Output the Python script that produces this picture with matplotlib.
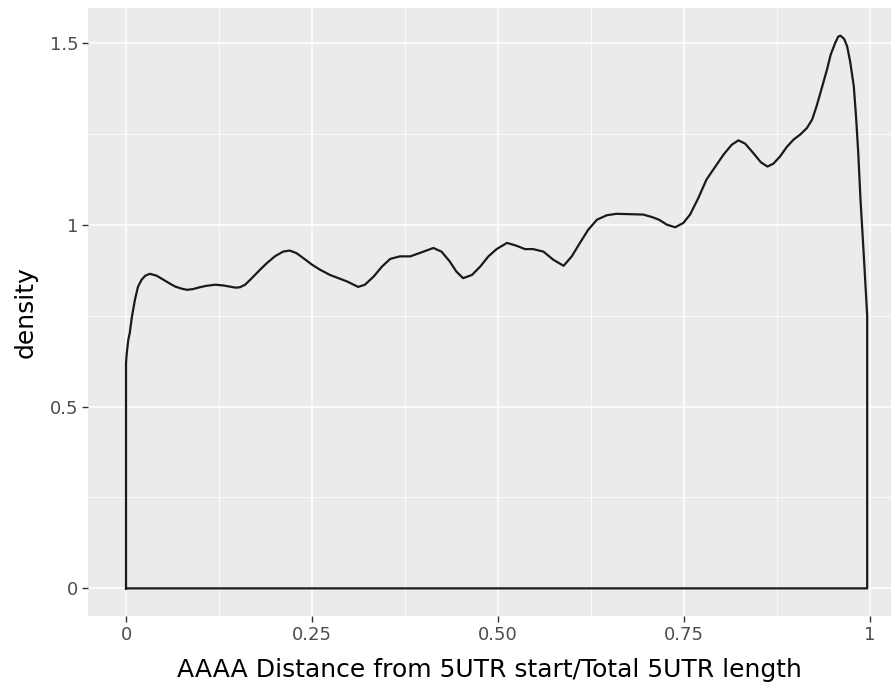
import numpy as np
import matplotlib
matplotlib.use("Agg")
import matplotlib.pyplot as plt

# density curve (x = relative position, y = density)
pos = [0.000, 0.001, 0.003, 0.005, 0.008, 0.012, 0.016, 0.021, 0.026, 0.032,
       0.041, 0.050, 0.059, 0.066, 0.075, 0.082, 0.090, 0.099, 0.108, 0.120,
       0.131, 0.147, 0.153, 0.160, 0.169, 0.180, 0.189, 0.200, 0.211, 0.220,
       0.229, 0.241, 0.250, 0.261, 0.274, 0.297, 0.312, 0.321, 0.333, 0.344,
       0.355, 0.368, 0.382, 0.397, 0.413, 0.424, 0.435, 0.444, 0.453, 0.465,
       0.476, 0.487, 0.498, 0.512, 0.525, 0.536, 0.547, 0.561, 0.574, 0.588,
       0.599, 0.610, 0.621, 0.633, 0.646, 0.659, 0.677, 0.695, 0.707, 0.716,
       0.727, 0.738, 0.749, 0.758, 0.769, 0.780, 0.792, 0.803, 0.814, 0.823,
       0.832, 0.843, 0.853, 0.862, 0.870, 0.879, 0.888, 0.897, 0.906, 0.915,
       0.922, 0.928, 0.935, 0.942, 0.947, 0.953, 0.957, 0.960, 0.965, 0.969,
       0.973, 0.978, 0.981, 0.984, 0.987, 0.991, 0.996]
dens = [0.620, 0.647, 0.683, 0.702, 0.748, 0.794, 0.829, 0.849, 0.860, 0.865,
        0.860, 0.849, 0.838, 0.830, 0.824, 0.821, 0.823, 0.828, 0.832, 0.835,
        0.833, 0.827, 0.828, 0.835, 0.853, 0.876, 0.894, 0.913, 0.926, 0.929,
        0.922, 0.904, 0.890, 0.876, 0.862, 0.844, 0.829, 0.835, 0.858, 0.885,
        0.906, 0.913, 0.913, 0.924, 0.936, 0.926, 0.899, 0.871, 0.853, 0.862,
        0.885, 0.913, 0.933, 0.950, 0.942, 0.933, 0.933, 0.926, 0.904, 0.887,
        0.913, 0.950, 0.986, 1.014, 1.026, 1.030, 1.029, 1.028, 1.021, 1.014,
        1.000, 0.993, 1.005, 1.028, 1.073, 1.124, 1.160, 1.193, 1.220, 1.232,
        1.223, 1.197, 1.172, 1.160, 1.168, 1.188, 1.214, 1.234, 1.248, 1.266,
        1.289, 1.326, 1.376, 1.427, 1.468, 1.500, 1.517, 1.520, 1.511, 1.491,
        1.450, 1.381, 1.298, 1.197, 1.069, 0.931, 0.750]

x_major = [0, 0.25, 0.5, 0.75, 1]
x_labels = ["0", "0.25", "0.50", "0.75", "1"]
y_major = [0, 0.5, 1, 1.5]
y_labels = ["0", "0.5", "1", "1.5"]

fig = plt.figure(figsize=(8.91, 6.86), dpi=100)
ax = fig.add_axes([88 / 891, 70 / 686, 803 / 891, 608 / 686])
ax.set_facecolor("#EBEBEB")
for s in ax.spines.values():
    s.set_visible(False)

# outline like geom_density: closed along the bottom
xs = [pos[0]] + pos + [pos[-1], pos[0]]
ys = [0] + dens + [0, 0]
ax.plot(xs, ys, color="#1a1a1a", lw=1.6, solid_joinstyle="round", zorder=3)

ax.set_xlim(-0.0511, 1.028)
ax.set_ylim(-0.076, 1.596)

ax.set_xticks(x_major)
ax.set_xticklabels(x_labels)
ax.set_yticks(y_major)
ax.set_yticklabels(y_labels)
ax.set_xticks([0.125, 0.375, 0.625, 0.875], minor=True)
ax.set_yticks([0.25, 0.75, 1.25], minor=True)

ax.grid(which="major", color="white", lw=1.1)
ax.grid(which="minor", color="white", lw=0.55)
ax.set_axisbelow(True)

ax.tick_params(which="major", length=4, width=1, color="#333333",
               labelsize=13, labelcolor="#4D4D4D", pad=3)
ax.tick_params(which="minor", length=0)

ax.set_xlabel("AAAA Distance from 5UTR start/Total 5UTR length", fontsize=18, labelpad=10)
ax.set_ylabel("density", fontsize=18, labelpad=9)

fig.savefig("out.png", dpi=100)
